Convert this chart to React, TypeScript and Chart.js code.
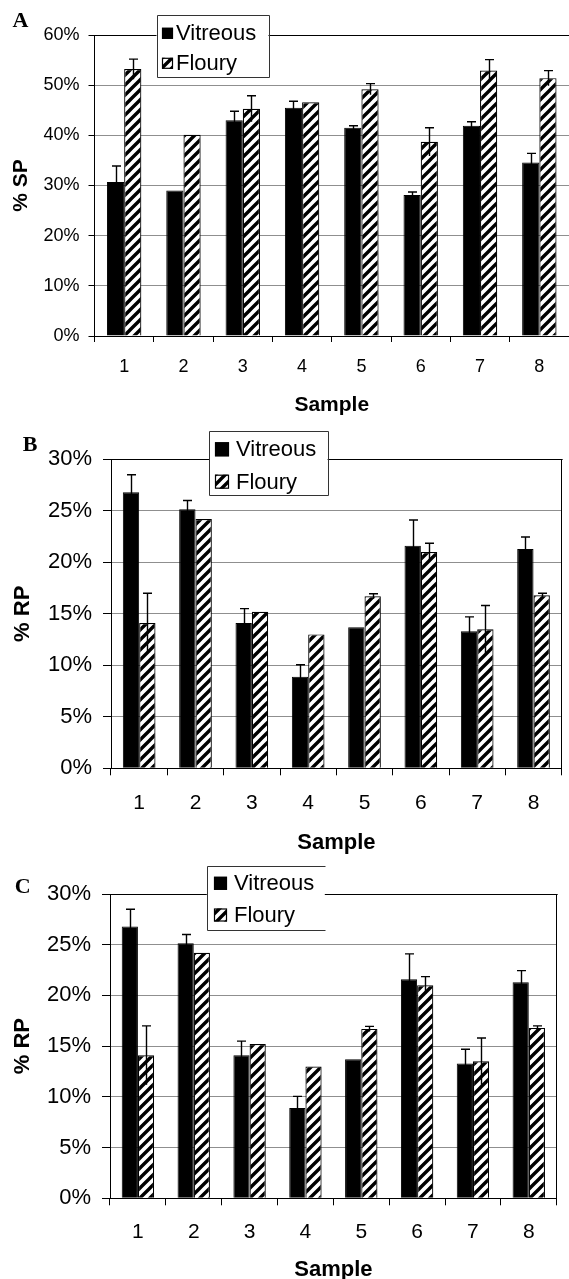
import React, { useEffect, useRef } from 'react';
import { Chart, registerables } from 'chart.js';

Chart.register(...registerables);

// ---------- data ----------
const samples = ['1', '2', '3', '4', '5', '6', '7', '8'];
const seriesNames = ['Vitreous', 'Floury'];

const spVitreous = [30.7, 29.0, 43.0, 45.5, 41.5, 28.1, 41.9, 34.6];
const spVitreousErr = [3.2, 0, 1.8, 1.3, 0.4, 0.6, 0.8, 1.8];
const spFloury = [53.2, 40.1, 45.3, 46.6, 49.2, 38.7, 52.9, 51.4];
const spFlouryErr = [2.0, 0, 2.6, 0, 1.1, 2.8, 2.2, 1.5];

const rpVitreous = [26.8, 25.15, 14.1, 8.9, 13.7, 21.6, 13.3, 21.3];
const rpVitreousErr = [1.7, 0.85, 1.4, 1.15, 0, 2.5, 1.4, 1.15];
const rpFloury = [14.1, 24.2, 15.2, 13.0, 16.7, 21.0, 13.5, 16.8];
const rpFlouryErr = [2.9, 0, 0, 0, 0.25, 0.85, 2.3, 0.2];

const spTickStep = 10;
const spMax = 60;
const rpTickStep = 5;
const rpMax = 30;

const SANS = '"Liberation Sans", Arial, sans-serif';
const SERIF = '"Liberation Serif", "Times New Roman", serif';

function makeHatch(): CanvasPattern | string {
  const c = document.createElement('canvas');
  const s = 10;
  c.width = s;
  c.height = s;
  const g = c.getContext('2d');
  if (!g) return '#fff';
  g.fillStyle = '#fff';
  g.fillRect(0, 0, s, s);
  g.strokeStyle = '#000';
  g.lineWidth = 3.4;
  g.beginPath();
  g.moveTo(-2, s + 2);
  g.lineTo(s + 2, -2);
  g.moveTo(-s / 2 - 2, s / 2 + 2);
  g.lineTo(s / 2 + 2, -s / 2 - 2);
  g.moveTo(s / 2 - 2, s * 1.5 + 2);
  g.lineTo(s * 1.5 + 2, s / 2 - 2);
  g.stroke();
  const p = g.createPattern(c, 'repeat');
  return p || '#fff';
}

const errorBarPlugin = {
  id: 'errorBars',
  afterDatasetsDraw(chart: any, _args: any, opts: any) {
    const ctx = chart.ctx;
    const y = chart.scales.y;
    const cap = (opts && opts.cap) || 9;
    chart.data.datasets.forEach((ds: any, di: number) => {
      const errs = ds.errors;
      if (!errs) return;
      const meta = chart.getDatasetMeta(di);
      meta.data.forEach((bar: any, i: number) => {
        const e = errs[i];
        if (!e) return;
        const v = ds.data[i];
        const yTop = y.getPixelForValue(v + e);
        const yBot = y.getPixelForValue(v - e);
        const x = Math.round(bar.x) + 0.5;
        ctx.save();
        ctx.strokeStyle = '#000';
        ctx.lineWidth = 1.4;
        ctx.beginPath();
        ctx.moveTo(x, yBot);
        ctx.lineTo(x, yTop);
        ctx.moveTo(x - cap / 2, yTop);
        ctx.lineTo(x + cap / 2, yTop);
        ctx.stroke();
        ctx.restore();
      });
    });
  },
};

const framePlugin = {
  id: 'frameLegend',
  afterDraw(chart: any, _args: any, opts: any) {
    const ctx = chart.ctx;
    const { left, right, top } = chart.chartArea;
    ctx.save();
    ctx.strokeStyle = '#000';
    ctx.lineWidth = 1;
    ctx.beginPath();
    const ty = Math.round(top) + 0.5;
    ctx.moveTo(left, ty);
    ctx.lineTo(right + 1, ty);
    if (opts.rightBorder) {
      const rx = Math.round(right) - 0.5;
      ctx.moveTo(rx, ty);
      ctx.lineTo(rx, chart.chartArea.bottom);
    }
    ctx.stroke();

    // legend box
    const L = opts.legend;
    ctx.fillStyle = '#fff';
    ctx.fillRect(L.x, L.y, L.w, L.h);
    ctx.strokeStyle = '#333';
    ctx.lineWidth = 1;
    const bx = Math.round(L.x) + 0.5;
    const by = Math.round(L.y) + 0.5;
    const bw = Math.round(L.w);
    const bh = Math.round(L.h);
    ctx.beginPath();
    if (L.noRight) {
      ctx.moveTo(bx + bw, by);
      ctx.lineTo(bx, by);
      ctx.lineTo(bx, by + bh);
      ctx.lineTo(bx + bw, by + bh);
    } else {
      ctx.rect(bx, by, bw, bh);
    }
    ctx.stroke();
    ctx.font = `${L.font}px ${SANS}`;
    ctx.textBaseline = 'middle';
    ctx.textAlign = 'left';
    chart.data.datasets.forEach((ds: any, i: number) => {
      const cy = L.rows[i];
      const sx = L.sqX;
      const sy = cy - L.sq / 2;
      ctx.fillStyle = ds.backgroundColor;
      ctx.fillRect(sx, sy, L.sq, L.sq);
      ctx.strokeStyle = '#000';
      ctx.lineWidth = 1.2;
      ctx.strokeRect(sx + 0.5, sy + 0.5, L.sq - 1, L.sq - 1);
      ctx.fillStyle = '#000';
      ctx.fillText(ds.label, L.textX, cy + 1);
    });

    // panel letter
    const P = opts.letter;
    ctx.font = `bold ${P.size}px ${SERIF}`;
    ctx.fillStyle = '#000';
    ctx.textAlign = 'center';
    ctx.textBaseline = 'middle';
    ctx.fillText(P.text, P.x, P.y);
    ctx.restore();
  },
};

type PanelCfg = {
  top: number;
  height: number;
  chartLeft: number;
  chartRight: number;
  chartTop: number;
  chartBottom: number;
  yMax: number;
  yStep: number;
  yTitle: string;
  vitreous: number[];
  vitreousErr: number[];
  floury: number[];
  flouryErr: number[];
  yLabelFont: number;
  xLabelFont: number;
  yTitleFont: number;
  xTitleFont: number;
  yTickLen: number;
  xTickLen: number;
  yLabelPad: number;
  xLabelPad: number;
  yTitlePad: number;
  xTitlePad: number;
  rightBorder: boolean;
  legend: any;
  letter: any;
};

const W = 569;

function Panel({ cfg }: { cfg: PanelCfg }) {
  const ref = useRef<HTMLCanvasElement | null>(null);
  useEffect(() => {
    if (!ref.current) return;
    const hatch = makeHatch();
    const chart = new Chart(ref.current, {
      type: 'bar',
      data: {
        labels: samples,
        datasets: [
          {
            label: seriesNames[0],
            data: cfg.vitreous,
            errors: cfg.vitreousErr,
            backgroundColor: '#000',
            borderColor: '#000',
            borderWidth: 1,
            categoryPercentage: 0.58,
            barPercentage: 1.0,
          } as any,
          {
            label: seriesNames[1],
            data: cfg.floury,
            errors: cfg.flouryErr,
            backgroundColor: hatch,
            borderColor: '#000',
            borderWidth: 1.2,
            categoryPercentage: 0.58,
            barPercentage: 1.0,
          } as any,
        ],
      },
      options: {
        animation: false,
        responsive: true,
        maintainAspectRatio: false,
        events: [],
        layout: {
          padding: {
            left: 0,
            top: cfg.chartTop,
            right: W - cfg.chartRight,
            bottom: 0,
          },
        },
        plugins: {
          legend: { display: false },
          tooltip: { enabled: false },
          title: { display: false },
          errorBars: { cap: 9 },
          frameLegend: {
            rightBorder: cfg.rightBorder,
            legend: cfg.legend,
            letter: cfg.letter,
          },
        } as any,
        scales: {
          x: {
            type: 'category',
            offset: true,
            grid: {
              display: true,
              offset: true,
              drawOnChartArea: false,
              drawTicks: true,
              tickLength: cfg.xTickLen,
              color: '#000',
              lineWidth: 1,
            },
            border: { display: true, color: '#000', width: 1 },
            ticks: {
              color: '#000',
              font: { family: SANS, size: cfg.xLabelFont },
              padding: cfg.xLabelPad,
              maxRotation: 0,
              autoSkip: false,
            },
            title: {
              display: true,
              text: 'Sample',
              color: '#000',
              font: { family: SANS, size: cfg.xTitleFont, weight: 'bold' },
              padding: { top: 0, bottom: cfg.xTitlePad },
            },
            afterFit: (scale: any) => {
              scale.height = cfg.height - cfg.chartBottom;
            },
          },
          y: {
            type: 'linear',
            min: 0,
            max: cfg.yMax,
            grid: {
              display: true,
              drawOnChartArea: true,
              drawTicks: true,
              tickLength: cfg.yTickLen,
              color: '#8f8f8f',
              tickColor: '#000',
              lineWidth: 1,
            },
            border: { display: true, color: '#000', width: 1 },
            ticks: {
              stepSize: cfg.yStep,
              color: '#000',
              font: { family: SANS, size: cfg.yLabelFont },
              padding: cfg.yLabelPad,
              callback: (v: any) => `${v}%`,
            },
            title: {
              display: true,
              text: cfg.yTitle,
              color: '#000',
              font: { family: SANS, size: cfg.yTitleFont, weight: 'bold' },
              padding: { top: cfg.yTitlePad, bottom: 0 },
            },
            afterFit: (scale: any) => {
              scale.width = cfg.chartLeft;
            },
          },
        },
      } as any,
      plugins: [errorBarPlugin, framePlugin] as any,
    });
    return () => chart.destroy();
  }, [cfg]);

  return (
    <div
      style={{
        position: 'absolute',
        left: 0,
        top: cfg.top,
        width: W,
        height: cfg.height,
      }}
    >
      <canvas ref={ref} />
    </div>
  );
}

const panelA: PanelCfg = {
  top: 0,
  height: 420,
  chartLeft: 94.5,
  chartRight: 569,
  chartTop: 35,
  chartBottom: 336,
  yMax: spMax,
  yStep: spTickStep,
  yTitle: '% SP',
  vitreous: spVitreous,
  vitreousErr: spVitreousErr,
  floury: spFloury,
  flouryErr: spFlouryErr,
  yLabelFont: 18,
  xLabelFont: 18,
  yTitleFont: 21,
  xTitleFont: 21,
  yTickLen: 6,
  xTickLen: 6,
  yLabelPad: 9,
  xLabelPad: 14,
  yTitlePad: 9,
  xTitlePad: 2.4,
  rightBorder: false,
  legend: { x: 156.5, y: 15, w: 112, h: 62, font: 22, rows: [33.3, 63.3], sq: 11, sqX: 162, textX: 176 },
  letter: { text: 'A', x: 20.5, y: 21, size: 22 },
};

const panelB: PanelCfg = {
  top: 420,
  height: 438,
  chartLeft: 111,
  chartRight: 561.7,
  chartTop: 39.3,
  chartBottom: 348.3,
  yMax: rpMax,
  yStep: rpTickStep,
  yTitle: '% RP',
  vitreous: rpVitreous,
  vitreousErr: rpVitreousErr,
  floury: rpFloury,
  flouryErr: rpFlouryErr,
  yLabelFont: 22,
  xLabelFont: 21,
  yTitleFont: 22,
  xTitleFont: 22,
  yTickLen: 8,
  xTickLen: 7,
  yLabelPad: 11,
  xLabelPad: 15,
  yTitlePad: 9.5,
  xTitlePad: 1.8,
  rightBorder: true,
  legend: { x: 209, y: 11, w: 118.6, h: 64, font: 22, rows: [29.3, 61.7], sq: 14, sqX: 215, textX: 236 },
  letter: { text: 'B', x: 30, y: 25, size: 22 },
};

const panelC: PanelCfg = {
  top: 858,
  height: 427,
  chartLeft: 110,
  chartRight: 556.7,
  chartTop: 36,
  chartBottom: 340.3,
  yMax: rpMax,
  yStep: rpTickStep,
  yTitle: '% RP',
  vitreous: rpVitreous,
  vitreousErr: rpVitreousErr,
  floury: rpFloury,
  flouryErr: rpFlouryErr,
  yLabelFont: 22,
  xLabelFont: 21,
  yTitleFont: 22,
  xTitleFont: 22,
  yTickLen: 8,
  xTickLen: 7,
  yLabelPad: 11,
  xLabelPad: 14,
  yTitlePad: 9.5,
  xTitlePad: 1.8,
  rightBorder: true,
  legend: { x: 206.8, y: 7.7, w: 118, h: 63.6, font: 22, rows: [25.3, 57], sq: 13, sqX: 214, textX: 234, noRight: true },
  letter: { text: 'C', x: 22.6, y: 29, size: 22 },
};

export default function App() {
  return (
    <div
      style={{
        position: 'absolute',
        left: 0,
        top: 0,
        width: W,
        height: 1279,
        overflow: 'hidden',
        background: '#fff',
      }}
    >
      <Panel cfg={panelA} />
      <Panel cfg={panelB} />
      <Panel cfg={panelC} />
    </div>
  );
}
